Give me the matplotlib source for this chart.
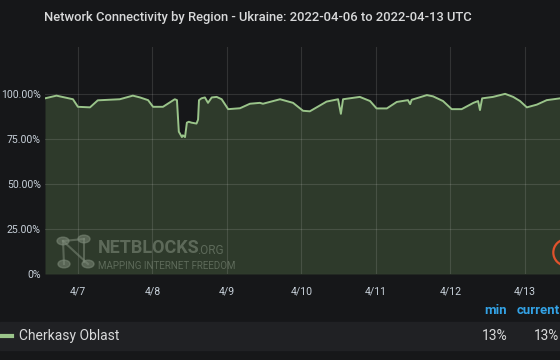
import pandas as pd
import matplotlib.pyplot as plt
from matplotlib.patches import Rectangle, Circle
from matplotlib.lines import Line2D

plt.rcParams['font.family'] = ['Roboto', 'DejaVu Sans']

# hours since 2022-04-06 00:00 UTC
hours = [13.4, 17.1, 22.4, 24.0, 27.9, 30.4, 37.5, 41.7, 44.0, 46.6, 48.2, 51.4,
         55.2, 55.9, 56.5, 57.5, 57.8, 58.5, 59.1, 59.7, 60.6, 62.2, 62.7, 63.0,
         63.8, 64.9, 65.9, 67.1, 68.7, 70.3, 72.4, 76.2, 79.4, 82.6, 83.6, 89.1,
         93.3, 96.5, 98.7, 104.1, 107.8, 108.7, 109.4, 114.8, 118.1, 120.2, 123.5,
         126.7, 130.3, 131.0, 131.5, 136.4, 138.4, 141.6, 144.4, 147.6, 151.4,
         152.9, 153.5, 154.2, 157.7, 161.6, 164.2, 166.4, 168.6, 171.8, 175.0,
         179.3, 180.6, 181.2, 184.0]
connectivity = [97.5, 99.0, 97.0, 92.8, 92.5, 96.4, 97.0, 99.0, 98.0, 96.5, 92.8, 92.8,
                97.0, 96.5, 79.0, 76.0, 77.0, 76.0, 84.0, 84.5, 84.0, 83.5, 85.7, 96.5,
                97.5, 98.0, 95.0, 98.0, 98.3, 97.0, 91.5, 92.0, 94.5, 95.0, 94.5, 97.0,
                95.0, 90.6, 90.3, 95.7, 97.0, 88.9, 97.0, 98.3, 96.0, 91.9, 91.9,
                95.5, 96.5, 94.3, 96.7, 99.3, 98.6, 96.0, 91.5, 91.5, 95.0,
                96.0, 91.0, 97.5, 98.3, 100.0, 98.3, 96.0, 92.5, 94.0, 96.5,
                97.5, 97.0, 13.0, 13.0]
day_ticks = ["2022-04-07", "2022-04-08", "2022-04-09", "2022-04-10",
             "2022-04-11", "2022-04-12", "2022-04-13"]
y_ticks = [0, 0.25, 0.5, 0.75, 1.0]
y_labels = ["0%", "25.00%", "50.00%", "75.00%", "100.00%"]

start = pd.Timestamp("2022-04-06")
t = start + pd.to_timedelta(hours, unit="h")
y = [v / 100 for v in connectivity]

bg = "#161719"
green = "#9ac48a"
txt = "#c7d0d9"

fig = plt.figure(figsize=(5.6, 3.6), dpi=100, facecolor=bg)

# legend band
fig.patches.append(Rectangle((0, 10 / 360), 1, 28 / 360, transform=fig.transFigure,
                             color="#202124", zorder=0))

ax = fig.add_axes([45 / 560, 86 / 360, 575 / 560, 227 / 360])
ax.set_facecolor(bg)
ax.fill_between(t, y, 0, color="#2e3a2b", lw=0, zorder=1)
ax.plot(t, y, color=green, lw=1.4, zorder=3)

ax.set_xlim(start + pd.Timedelta(hours=13.4), start + pd.Timedelta(hours=198.6))
ax.set_ylim(0, 1.26)
ax.set_xticks(pd.to_datetime(day_ticks))
ax.set_xticklabels([f"{d.month}/{d.day}" for d in pd.to_datetime(day_ticks)])
ax.set_yticks(y_ticks)
ax.set_yticklabels(y_labels)
ax.grid(True, color="white", alpha=0.12, lw=0.8, zorder=2)
ax.tick_params(length=0, colors=txt, labelsize=7.6)
ax.tick_params(axis="x", pad=9)
ax.tick_params(axis="y", pad=3)
for s in ax.spines.values():
    s.set_visible(False)

# orange ring marking the drop
ax.plot(t[-2], 0.12, marker="o", ms=19, mfc="none", mec="#e0522c", mew=1.6, zorder=4)

# watermark
wm = "#7d8a79"
for cx, cy in [(63, 241), (84, 239), (64, 264), (88, 264)]:
    fig.patches.append(Circle((cx / 560, 1 - cy / 360), 6 / 560, transform=fig.transFigure,
                              color=wm, alpha=0.55, zorder=5))
for (x1, y1), (x2, y2) in [((63, 241), (84, 239)), ((63, 241), (64, 264)),
                           ((63, 241), (88, 264)), ((84, 239), (84, 262))]:
    fig.add_artist(Line2D([x1 / 560, x2 / 560], [1 - y1 / 360, 1 - y2 / 360],
                          transform=fig.transFigure, color=wm, alpha=0.55, lw=1.5))
fig.text(98 / 560, 1 - 248 / 360, "NETBLOCKS", color=wm, alpha=0.6, fontsize=13,
         fontweight="bold", va="center")
fig.text(197 / 560, 1 - 250 / 360, ".ORG", color=wm, alpha=0.6, fontsize=8.5,
         va="center")
fig.text(98 / 560, 1 - 266 / 360, "MAPPING INTERNET FREEDOM", color=wm, alpha=0.6,
         fontsize=7, va="center")

# title
fig.text(44 / 560, 1 - 18 / 360, "Network Connectivity by Region - Ukraine: 2022-04-06 to 2022-04-13 UTC",
         color="#d8d9da", fontsize=9.4, fontweight="medium", va="center")

# legend
fig.add_artist(Line2D([0, 12 / 560], [1 - 336 / 360] * 2, transform=fig.transFigure,
                      color=green, lw=3))
fig.text(19 / 560, 1 - 336 / 360, "Cherkasy Oblast", color="#d8d9da", fontsize=10,
         va="center")
fig.text(484 / 560, 1 - 311 / 360, "min", color="#33a2e5", fontsize=9.5,
         fontweight="bold", va="center")
fig.text(517 / 560, 1 - 311 / 360, "current", color="#33a2e5", fontsize=9.5,
         fontweight="bold", va="center")
fig.text(482 / 560, 1 - 336 / 360, "13%", color="#d8d9da", fontsize=10,
         va="center")
fig.text(534 / 560, 1 - 336 / 360, "13%", color="#d8d9da", fontsize=9.8,
         va="center")

fig.savefig("out.png", dpi=100, facecolor=bg)
